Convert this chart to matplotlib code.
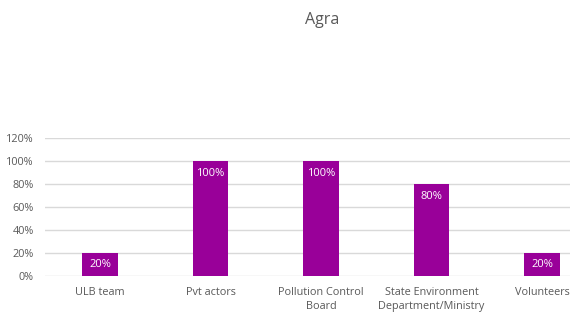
import matplotlib
matplotlib.use("Agg")
import matplotlib.pyplot as plt
from matplotlib.ticker import FuncFormatter

categories = ["ULB team", "Pvt actors", "Pollution Control\nBoard",
              "State Environment\nDepartment/Ministry", "Volunteers"]
values = [20, 100, 100, 80, 20]
yticks = [0, 20, 40, 60, 80, 100, 120]
title = "Agra"

plt.rcParams['font.family'] = ['Open Sans', 'DejaVu Sans']
W, H = 570, 316
fig = plt.figure(figsize=(W / 100, H / 100), dpi=100)
left, right = 44.75, 597.25
bottom, top = 275.7, 138.3
ax = fig.add_axes([left / W, (H - bottom) / H, (right - left) / W, (bottom - top) / H])

x = list(range(len(categories)))
bars = ax.bar(x, values, width=0.317, color="#990099", zorder=3)
for xi, v in zip(x, values):
    ax.text(xi, v - 10.5, f"{v}%", ha="center", va="center", color="white", fontsize=8, zorder=4)

ax.set_xlim(-0.5, len(categories) - 0.5)
ax.set_ylim(0, 120)
ax.set_yticks(yticks)
ax.yaxis.set_major_formatter(FuncFormatter(lambda v, p: f"{int(v)}%"))
ax.set_xticks(x)
ax.set_xticklabels(categories, linespacing=1.35)
ax.tick_params(axis="both", length=0, labelsize=7.8, colors="#595959")
ax.tick_params(axis="x", pad=8)
ax.tick_params(axis="y", pad=8)
ax.grid(axis="y", color="#d9d9d9", linewidth=1, zorder=0)
for s in ax.spines.values():
    s.set_visible(False)

fig.text(322 / W, 1 - 20 / H, title, ha="center", va="center", fontsize=11.5, color="#595959")
fig.savefig("out.png", dpi=100)
